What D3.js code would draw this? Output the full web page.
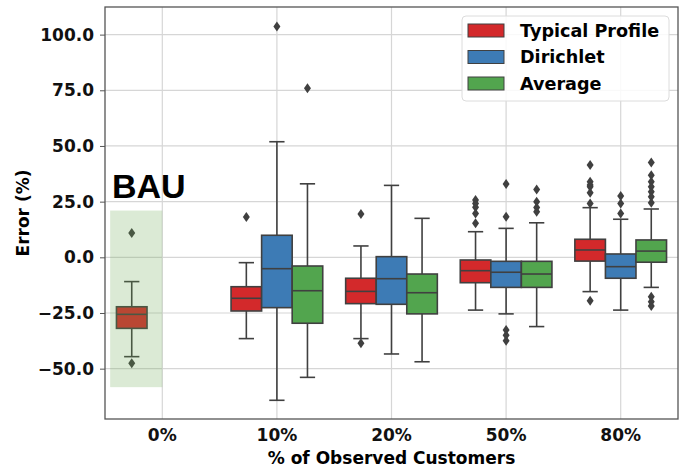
<!DOCTYPE html>
<html>
<head>
<meta charset="utf-8">
<script src="https://cdn.jsdelivr.net/npm/d3@7"></script>
<style>
  body { margin: 0; background: #fff; }
  text { font-family: "DejaVu Sans", sans-serif; font-weight: bold; }
</style>
</head>
<body>
<svg class="chart" width="694" height="468"></svg>
<script>
const categories = ["0%", "10%", "20%", "50%", "80%"];
const series = ["Typical Profile", "Dirichlet", "Average"];
const yTicks = [-50, -25, 0, 25, 50, 75, 100];

// [lower whisker, q1, median, q3, upper whisker]
const typicalStats = [
  [-44.6, -31.9, -25.6, -22.2, -10.9],
  [-36.5, -24.1, -18.4, -13.2, -2.4],
  [-36.5, -20.8, -15.3, -9.4, 5.1],
  [-23.7, -11.4, -6.0, -1.2, 11.5],
  [-15.4, -1.7, 3.3, 8.1, 22.3]
];
const typicalOut = [
  [10.9, -47.6],
  [18.1],
  [19.4, -38.6],
  [25.7, 24.2, 22.5, 19.7, 15.3],
  [41.4, 33.9, 32.5, 31.7, 29.0, 24.2, -19.5]
];
const dirichletStats = [
  null,
  [-64.2, -22.6, -5.1, 9.9, 51.9],
  [-43.4, -21.1, -9.6, 0.3, 32.3],
  [-25.4, -13.5, -6.7, -1.8, 13.0],
  [-23.7, -9.4, -4.2, 1.5, 17.1]
];
const dirichletOut = [
  [],
  [103.7],
  [],
  [32.9, 18.2, -32.6, -35.0, -37.5],
  [27.5, 24.2, 19.7]
];
const averageStats = [
  null,
  [-53.9, -29.6, -15.0, -3.9, 33.0],
  [-46.9, -25.4, -15.9, -7.5, 17.5],
  [-31.1, -13.5, -7.5, -1.8, 15.5],
  [-13.5, -2.2, 2.8, 7.8, 21.7]
];
const averageOut = [
  [],
  [75.9],
  [],
  [30.5, 25.0, 22.4, 20.5],
  [42.6, 36.9, 33.9, 31.7, 29.4, 27.2, 24.5, -17.7, -19.9, -21.9]
];
const bauSpan = [21, -58.3];

const svg = d3.select(".chart");
const m = { left: 105, right: 678, top: 7, bottom: 419 };
const edge = "#404040";

const x = d3.scaleBand().domain(categories).range([m.left, m.right]).padding(0);
const bw = x.bandwidth();
const hue = d3.scaleBand().domain(series).range([-0.4 * bw, 0.4 * bw]);
const y = d3.scaleLinear().domain([-72.6, 112.4]).range([m.bottom, m.top]);
const color = d3.scaleOrdinal().domain(series).range(["#d3292b", "#3d7bb5", "#52a54e"]);

// grid
svg.append("g")
  .selectAll("line")
  .data(yTicks)
  .join("line")
  .attr("x1", m.left).attr("x2", m.right)
  .attr("y1", (d) => y(d)).attr("y2", (d) => y(d))
  .attr("stroke", "#d6d6d6").attr("stroke-width", 1.2);
svg.append("g")
  .selectAll("line")
  .data(categories)
  .join("line")
  .attr("x1", (d) => x(d) + bw / 2).attr("x2", (d) => x(d) + bw / 2)
  .attr("y1", m.top).attr("y2", m.bottom)
  .attr("stroke", "#d6d6d6").attr("stroke-width", 1.2);

const boxes = [];
[typicalStats, dirichletStats, averageStats].forEach((stats, si) => {
  const outs = [typicalOut, dirichletOut, averageOut][si];
  stats.forEach((s, ci) => {
    if (!s) return;
    boxes.push({ cat: categories[ci], ser: series[si], s, out: outs[ci] });
  });
});

const box = svg.append("g")
  .selectAll("g")
  .data(boxes)
  .join("g")
  .attr("transform", (d) => `translate(${x(d.cat) + bw / 2 + hue(d.ser) + hue.bandwidth() / 2},0)`);

const hw = hue.bandwidth() / 2;
box.append("line")
  .attr("y1", (d) => y(d.s[0])).attr("y2", (d) => y(d.s[1]))
  .attr("stroke", edge).attr("stroke-width", 1.6);
box.append("line")
  .attr("y1", (d) => y(d.s[3])).attr("y2", (d) => y(d.s[4]))
  .attr("stroke", edge).attr("stroke-width", 1.6);
box.selectAll(".cap")
  .data((d) => [d.s[0], d.s[4]])
  .join("line")
  .attr("x1", -hw / 2).attr("x2", hw / 2)
  .attr("y1", (d) => y(d)).attr("y2", (d) => y(d))
  .attr("stroke", edge).attr("stroke-width", 1.6);
box.append("rect")
  .attr("x", -hw).attr("width", 2 * hw)
  .attr("y", (d) => y(d.s[3]))
  .attr("height", (d) => y(d.s[1]) - y(d.s[3]))
  .attr("fill", (d) => color(d.ser))
  .attr("stroke", edge).attr("stroke-width", 1.6);
box.append("line")
  .attr("x1", -hw).attr("x2", hw)
  .attr("y1", (d) => y(d.s[2])).attr("y2", (d) => y(d.s[2]))
  .attr("stroke", edge).attr("stroke-width", 1.6);
box.selectAll(".out")
  .data((d) => d.out)
  .join("path")
  .attr("d", (d) => `M0,${y(d) - 5}L3.5,${y(d)}L0,${y(d) + 5}L-3.5,${y(d)}Z`)
  .attr("fill", edge);

// BAU span
const c0 = x("0%") + bw / 2;
svg.append("rect")
  .attr("x", c0 - 0.455 * bw).attr("width", 0.455 * bw)
  .attr("y", y(bauSpan[0])).attr("height", y(bauSpan[1]) - y(bauSpan[0]))
  .attr("fill", "#6aa84f").attr("fill-opacity", 0.24);

svg.append("text")
  .attr("x", 112).attr("y", 198)
  .style("font-family", "Liberation Sans, Arial, sans-serif")
  .style("font-size", "34px")
  .text("BAU");

// axes
const yAxis = svg.append("g")
  .attr("transform", `translate(${m.left},0)`)
  .call(d3.axisLeft(y).tickValues(yTicks).tickFormat(d3.format(".1f")).tickSize(5).tickPadding(6));
const xAxis = svg.append("g")
  .attr("transform", `translate(0,${m.bottom})`)
  .call(d3.axisBottom(x).tickSize(0).tickPadding(10));
[yAxis, xAxis].forEach((g) => {
  g.select(".domain").remove();
  g.selectAll("line").attr("stroke", "#555");
  g.selectAll("text").style("font-size", "17px").attr("fill", "#111");
});

svg.append("rect")
  .attr("x", m.left).attr("y", m.top)
  .attr("width", m.right - m.left).attr("height", m.bottom - m.top)
  .attr("fill", "none").attr("stroke", "#555").attr("stroke-width", 1.3);

svg.append("text")
  .attr("transform", `translate(29,${(m.top + m.bottom) / 2}) rotate(-90)`)
  .attr("text-anchor", "middle")
  .style("font-size", "17px")
  .text("Error (%)");
svg.append("text")
  .attr("x", (m.left + m.right) / 2).attr("y", 464)
  .attr("text-anchor", "middle")
  .style("font-size", "17px")
  .text("% of Observed Customers");

// legend
const legend = svg.append("g").attr("transform", "translate(462,16)");
legend.append("rect")
  .attr("width", 207).attr("height", 85).attr("rx", 4)
  .attr("fill", "#fff").attr("fill-opacity", 0.85)
  .attr("stroke", "#dcdcdc");
const item = legend.selectAll(".item")
  .data(series)
  .join("g")
  .attr("transform", (d, i) => `translate(6,${8 + i * 26.5})`);
item.append("rect")
  .attr("width", 36).attr("height", 13)
  .attr("fill", (d) => color(d))
  .attr("stroke", edge).attr("stroke-width", 1);
item.append("text")
  .attr("x", 52).attr("y", 12.5)
  .style("font-size", "17.6px")
  .text((d) => d);
</script>
</body>
</html>
